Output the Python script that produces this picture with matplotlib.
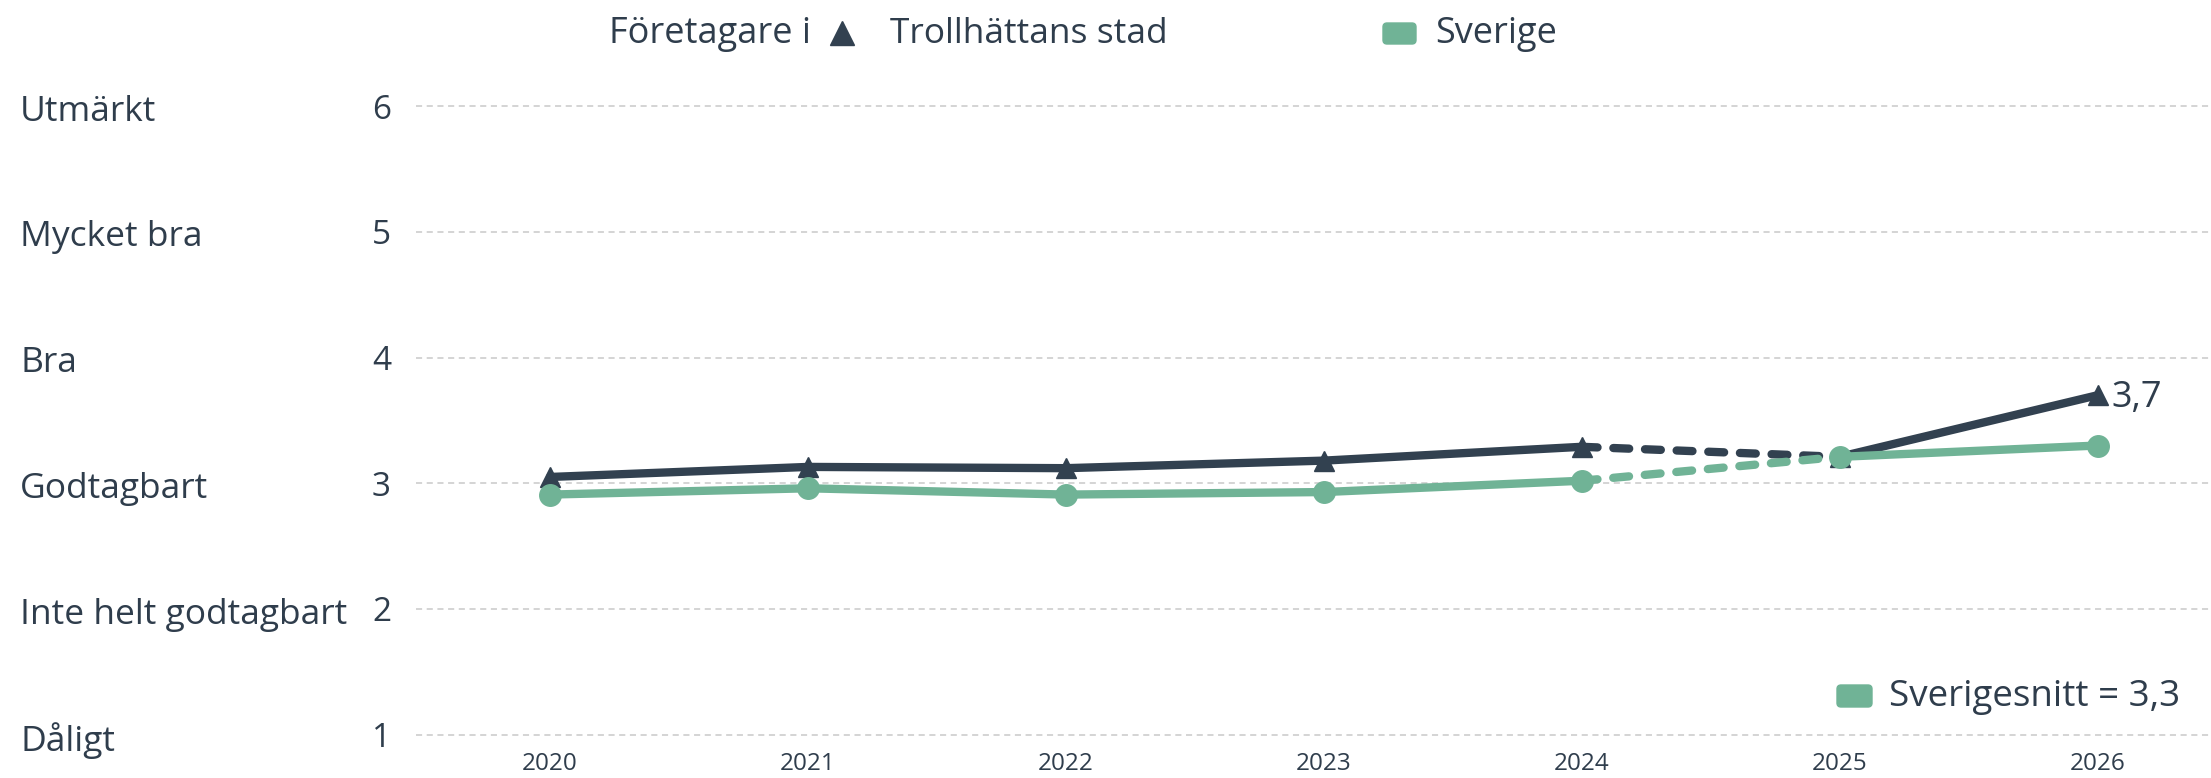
import matplotlib

matplotlib.use("Agg")
import matplotlib.pyplot as plt
from matplotlib.patches import FancyBboxPatch
from matplotlib.transforms import IdentityTransform, blended_transform_factory

plt.rcParams["font.family"] = ["Open Sans", "DejaVu Sans"]

# --- data ---
years = [2020, 2021, 2022, 2023, 2024, 2025, 2026]
trollhattan = [3.05, 3.13, 3.12, 3.18, 3.29, 3.21, 3.7]
sverige = [2.91, 2.96, 2.91, 2.93, 3.02, 3.21, 3.3]
levels = [1, 2, 3, 4, 5, 6]
level_names = ["Dåligt", "Inte helt godtagbart", "Godtagbart", "Bra",
               "Mycket bra", "Utmärkt"]
last_label = "3,7"
avg_label = "Sverigesnitt = 3,3"

DARK = "#324150"
GREEN = "#70b396"
TEXT = "#2f3d4c"
W, H = 2211, 778

fig = plt.figure(figsize=(W / 100, H / 100), dpi=100)
ax = fig.add_axes([416 / W, 0.033, 1 - 416 / W, 0.863])
ax.set_xlim(2019.48, 2026.44)
ax.set_ylim(0.86, 6.2)
for s in ax.spines.values():
    s.set_visible(False)

for lv in levels:
    ax.axhline(lv, color="#c9c9c9", lw=1.1, ls=(0, (4, 3)), zorder=0)

ax.set_yticks(levels, [str(v) for v in levels], fontsize=24, color=TEXT)
ax.tick_params(axis="y", length=0, pad=18)
ax.set_xticks(years, [str(y) for y in years], fontsize=17.5, color=TEXT)
ax.tick_params(axis="x", length=0, pad=0)

# category names sit a touch below their grid line
fig_y = blended_transform_factory(fig.transFigure, ax.transData)
for lv, name in zip(levels, level_names):
    ax.annotate(name, (20 / W, lv), xycoords=fig_y, xytext=(0, -4),
                textcoords="offset points", fontsize=25.5, color=TEXT,
                ha="left", va="center")


def draw(vals, color, marker, ms, z):
    kw = dict(color=color, lw=6, solid_capstyle="round", dash_capstyle="round", zorder=z)
    ax.plot(years[:5], vals[:5], **kw)
    ax.plot(years[4:6], vals[4:6], dashes=(1.9, 1.9), **kw)
    ax.plot(years[5:], vals[5:], **kw)
    ax.plot(years, vals, ls="none", marker=marker, ms=ms, color=color, zorder=z + 0.5)


draw(trollhattan, DARK, "^", 15, 3)
draw(sverige, GREEN, "o", 15.5, 4)

ax.annotate(last_label, (years[-1], trollhattan[-1]), xytext=(10, -2),
            textcoords="offset points", fontsize=26, color=TEXT, va="center", ha="left")

# top legend
ty = 1 - 34 / H
fig.text(609 / W, ty, "Företagare i", fontsize=26, color=TEXT, va="center", ha="left")
fig.lines.append(plt.Line2D([842 / W], [1 - 33 / H], marker="^", ms=17, color=DARK,
                            transform=fig.transFigure))
fig.text(890 / W, ty, "Trollhättans stad", fontsize=25.5, color=TEXT, va="center", ha="left")
fig.patches.append(FancyBboxPatch((1383, H - 44), 33, 21,
                                  boxstyle="round,pad=0,rounding_size=4",
                                  transform=IdentityTransform(), color=GREEN))
fig.text(1435 / W, ty, "Sverige", fontsize=26, color=TEXT, va="center", ha="left")

# bottom-right average
fig.patches.append(FancyBboxPatch((1837, H - 707), 35, 22,
                                  boxstyle="round,pad=0,rounding_size=4",
                                  transform=IdentityTransform(), color=GREEN))
fig.text(1889 / W, 1 - 697 / H, avg_label, fontsize=26.5, color=TEXT, va="center", ha="left")

fig.savefig("out.png", dpi=100)
